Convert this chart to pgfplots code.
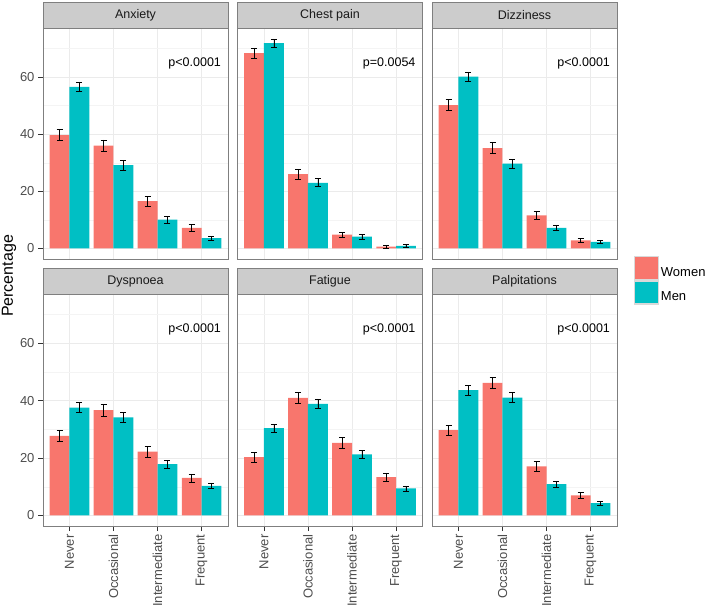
\documentclass[border=0pt]{standalone}
\usepackage{fontspec}
\setmainfont{Liberation Sans}
\usepackage{pgfplots}
\usepackage{pgfplotstable}
\pgfplotsset{compat=1.18}
\definecolor{women}{HTML}{F8766D}
\definecolor{men}{HTML}{00BFC4}
\definecolor{grey50}{HTML}{7F7F7F}
\definecolor{grey80}{HTML}{CCCCCC}
\definecolor{grey85}{HTML}{D9D9D9}
\definecolor{grey92}{HTML}{EBEBEB}
\definecolor{grey96}{HTML}{F4F4F4}
\definecolor{grey30}{HTML}{4D4D4D}
\definecolor{grey20}{HTML}{333333}
\definecolor{grey10}{HTML}{1A1A1A}

\pgfplotstableread{
xw w we xm m me
0.775 39.7 2.0 1.225 56.6 1.7
1.775 36.0 2.0 2.225 29.2 1.7
2.775 16.6 1.7 3.225 10.1 1.2
3.775 7.2 1.2 4.225 3.6 0.7
}\anxiety
\pgfplotstableread{
xw w we xm m me
0.775 68.4 1.8 1.225 71.9 1.5
1.775 26.0 1.7 2.225 23.0 1.4
2.775 4.8 0.9 3.225 4.1 0.8
3.775 0.6 0.4 4.225 0.9 0.4
}\chest
\pgfplotstableread{
xw w we xm m me
0.775 50.2 2.0 1.225 60.2 1.6
1.775 35.1 1.9 2.225 29.7 1.5
2.775 11.6 1.3 3.225 7.2 0.9
3.775 2.8 0.7 4.225 2.3 0.5
}\dizzy
\pgfplotstableread{
xw w we xm m me
0.775 27.7 2.0 1.225 37.6 1.7
1.775 36.7 2.0 2.225 34.2 1.7
2.775 22.2 1.8 3.225 17.9 1.4
3.775 13.1 1.4 4.225 10.3 1.0
}\dysp
\pgfplotstableread{
xw w we xm m me
0.775 20.3 1.8 1.225 30.4 1.5
1.775 41.0 2.0 2.225 38.9 1.7
2.775 25.3 1.8 3.225 21.3 1.4
3.775 13.3 1.3 4.225 9.4 0.9
}\fatigue
\pgfplotstableread{
xw w we xm m me
0.775 29.7 1.8 1.225 43.7 1.7
1.775 46.2 2.0 2.225 41.1 1.8
2.775 17.1 1.6 3.225 10.9 1.0
3.775 7.0 1.1 4.225 4.3 0.7
}\palp

\newcommand{\fs}{\fontsize{12.5}{15}\selectfont}
\newcommand{\ts}{\fontsize{13}{15}\selectfont}
\pgfplotsset{
  panel/.style={
    scale only axis, width=185pt, height=231pt,
    xmin=0.4, xmax=4.6, ymin=-3.7, ymax=77.2,
    axis line style={draw=grey50, line width=0.9pt},
    xtick={1,2,3,4}, ytick={0,20,40,60}, minor ytick={10,30,50,70},
    grid=both,
    major grid style={draw=grey92, line width=0.6pt},
    minor grid style={draw=grey96, line width=0.4pt},
    tick align=outside, tick pos=left,
    major tick length=5pt, minor tick length=0pt,
    tick style={draw=grey20, line width=0.6pt},
    ticklabel style={font=\ts, text=grey30},
    /pgf/number format/assume math mode=true,
    xticklabels={Never,Occasional,Intermediate,Frequent},
    xticklabel style={rotate=90, anchor=east},
  },
  notx/.style={xticklabels={}, xtick style={draw=none}},
  noty/.style={yticklabels={}, ytick style={draw=none}},
}
\newcommand{\bars}[1]{%
  \addplot[ybar, bar width=0.45, bar shift=0pt, fill=women, draw=none,
    error bars/.cd, y dir=both, y explicit,
    error bar style={black, line width=0.6pt},
    error mark options={rotate=90, black, line width=0.6pt, mark size=3pt}]
    table[x=xw, y=w, y error=we]{#1};
  \addplot[ybar, bar width=0.45, bar shift=0pt, fill=men, draw=none,
    error bars/.cd, y dir=both, y explicit,
    error bar style={black, line width=0.6pt},
    error mark options={rotate=90, black, line width=0.6pt, mark size=3pt}]
    table[x=xm, y=m, y error=me]{#1};
}
\newcommand{\pval}[1]{\node[anchor=east, font=\fs, text=black] at (axis cs:4.52,64.8) {#1};}
\newcommand{\strip}[2]{%
  \draw[fill=grey80, draw=grey50, line width=0.9pt] (#1.north west) rectangle ([yshift=25.5pt]#1.north east);
  \node[font=\fs, text=grey10] at ([yshift=12.75pt]#1.north) {#2};
}

\begin{document}
\begin{tikzpicture}[x=1pt,y=1pt]
\useasboundingbox (0,0) rectangle (708,607);

\begin{axis}[panel, notx, name=a1, at={(43pt,348pt)}, anchor=south west]
\bars{\anxiety}
\pval{p<0.0001}
\end{axis}

\begin{axis}[panel, notx, noty, name=a2, at={(237.5pt,348pt)}, anchor=south west]
\bars{\chest}
\pval{p=0.0054}
\end{axis}

\begin{axis}[panel, notx, noty, name=a3, at={(432pt,348pt)}, anchor=south west,
  legend style={at={(axis description cs:1.092,0.013)}, anchor=north west,
    draw=none, fill=none, inner sep=0pt, row sep=0pt, font=\ts,
    nodes={inner sep=1.5pt, text=black}},
  legend cell align=left,
  legend image code/.code={\draw[#1, draw=grey85, line width=1.2pt] (0pt,-7.5pt) rectangle (24pt,15.5pt);}]
\bars{\dizzy}
\pval{p<0.0001}
\legend{Women,Men}
\end{axis}

\begin{axis}[panel, name=b1, at={(43pt,81pt)}, anchor=south west, height=232pt]
\bars{\dysp}
\pval{p<0.0001}
\end{axis}

\begin{axis}[panel, noty, name=b2, at={(237.5pt,81pt)}, anchor=south west, height=232pt]
\bars{\fatigue}
\pval{p<0.0001}
\end{axis}

\begin{axis}[panel, noty, name=b3, at={(432pt,81pt)}, anchor=south west, height=232pt]
\bars{\palp}
\pval{p<0.0001}
\end{axis}

\strip{a1}{Anxiety}
\strip{a2}{Chest pain}
\strip{a3}{Dizziness}
\strip{b1}{Dyspnoea}
\strip{b2}{Fatigue}
\strip{b3}{Palpitations}

\node[rotate=90, font=\fontsize{16}{19}\selectfont, text=black] at (9,331) {Percentage};
\end{tikzpicture}
\end{document}
